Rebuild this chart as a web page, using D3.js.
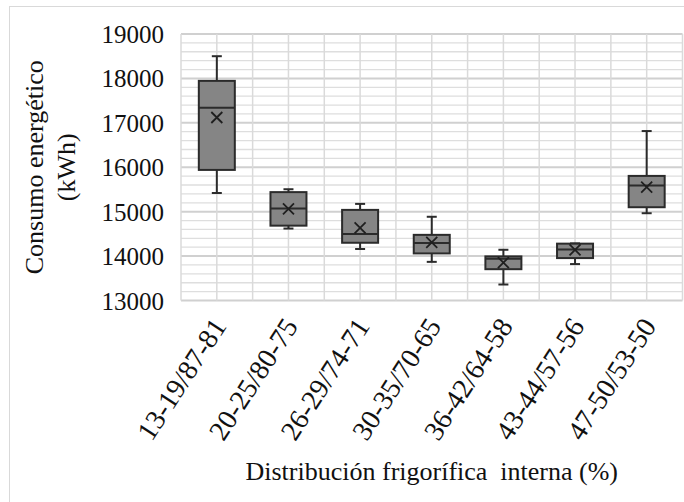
<!DOCTYPE html>
<html>
<head>
<meta charset="utf-8">
<script src="https://cdn.jsdelivr.net/npm/d3@7"></script>
<style>
  html, body { margin: 0; padding: 0; background: #fff; }
  svg text { font-family: "Liberation Serif", "Times New Roman", serif !important; fill: #111; }
</style>
</head>
<body>
<svg id="chart" width="684" height="502"></svg>
<script>
// Energy consumption by internal refrigeration distribution (box-and-whisker summary)
const categories = ["13-19/87-81", "20-25/80-75", "26-29/74-71", "30-35/70-65", "36-42/64-58", "43-44/57-56", "47-50/53-50"];
const mins    = [15420, 14620, 14160, 13870, 13360, 13820, 14965];
const q1s     = [15940, 14685, 14300, 14060, 13705, 13955, 15100];
const medians = [17340, 15070, 14500, 14295, 13940, 14150, 15590];
const q3s     = [17945, 15440, 15040, 14478, 13993, 14280, 15805];
const maxs    = [18500, 15505, 15175, 14885, 14142, 14285, 16815];
const means   = [17120, 15062, 14635, 14310, 13852, 14140, 15550];
const yTicks  = [13000, 14000, 15000, 16000, 17000, 18000, 19000];

const yTitle = ["Consumo energético", "(kWh)"];
const xTitle = "Distribución frigorífica  interna (%)";

const svg = d3.select("#chart");
const W = 684, H = 502;
const plot = { left: 181, right: 682.5, top: 34, bottom: 300.5 };

// chart area outline
svg.append("rect")
  .attr("x", 9.5).attr("y", 6.5).attr("width", W).attr("height", H)
  .attr("fill", "none").attr("stroke", "#d9d9d9").attr("stroke-width", 1);

const x = d3.scaleBand().domain(categories).range([plot.left, plot.right]).paddingInner(0).paddingOuter(0);
const y = d3.scaleLinear().domain([13000, 19000]).range([plot.bottom, plot.top]);

const grid = svg.append("g");
// horizontal gridlines: major every 1000, minor every 200
d3.range(13000, 19001, 200).forEach(v => {
  const major = v % 1000 === 0;
  grid.append("line")
    .attr("x1", plot.left).attr("x2", plot.right)
    .attr("y1", y(v)).attr("y2", y(v))
    .attr("stroke", major ? "#d0d0d0" : "#dedede")
    .attr("stroke-width", major ? 2 : 1.3);
});
// vertical gridlines at category boundaries and centres
const vx = [];
categories.forEach(c => { vx.push(x(c)); vx.push(x(c) + x.bandwidth() / 2); });
vx.push(plot.right);
vx.forEach(px => {
  grid.append("line")
    .attr("x1", px).attr("x2", px)
    .attr("y1", plot.top).attr("y2", plot.bottom)
    .attr("stroke", "#dadada").attr("stroke-width", 1.5);
});

// y axis labels
const yAxis = d3.axisLeft(y).tickValues(yTicks).tickSize(0).tickPadding(0).tickFormat(d3.format("d"));
const ya = svg.append("g").attr("transform", `translate(${164},0)`)
  .call(yAxis).attr("font-family", null).attr("font-size", null);
ya.select(".domain").remove();
ya.selectAll("text")
  .attr("font-size", 25).attr("dy", "0.34em");

// x axis labels (rotated)
const xAxis = d3.axisBottom(x).tickSize(0).tickPadding(0);
const xa = svg.append("g").attr("transform", `translate(0,${plot.bottom})`)
  .call(xAxis).attr("font-family", null).attr("font-size", null);
xa.select(".domain").remove();
xa.selectAll("text")
  .attr("font-size", 28)
  .attr("text-anchor", "end")
  .attr("dy", "0.7em")
  .attr("transform", "translate(-6,15) rotate(-57)");

// boxes
const boxW = 36, capW = 8, ink = "#2b2b2b";
const boxes = svg.append("g");
categories.forEach((c, i) => {
  const cx = x(c) + x.bandwidth() / 2;
  const g = boxes.append("g");
  // whiskers
  g.append("line").attr("x1", cx).attr("x2", cx).attr("y1", y(maxs[i])).attr("y2", y(q3s[i]))
    .attr("stroke", ink).attr("stroke-width", 2);
  g.append("line").attr("x1", cx).attr("x2", cx).attr("y1", y(q1s[i])).attr("y2", y(mins[i]))
    .attr("stroke", ink).attr("stroke-width", 2);
  [maxs[i], mins[i]].forEach(v => {
    g.append("line").attr("x1", cx - capW / 2 - 1).attr("x2", cx + capW / 2 + 1)
      .attr("y1", y(v)).attr("y2", y(v)).attr("stroke", ink).attr("stroke-width", 2);
  });
  // box
  g.append("rect")
    .attr("x", cx - boxW / 2).attr("width", boxW)
    .attr("y", y(q3s[i])).attr("height", y(q1s[i]) - y(q3s[i]))
    .attr("fill", "#858585").attr("stroke", ink).attr("stroke-width", 2);
  // median
  g.append("line").attr("x1", cx - boxW / 2).attr("x2", cx + boxW / 2)
    .attr("y1", y(medians[i])).attr("y2", y(medians[i]))
    .attr("stroke", ink).attr("stroke-width", 2);
  // mean marker
  const my = y(means[i]), s = 5.5;
  g.append("path")
    .attr("d", `M${cx - s},${my - s}L${cx + s},${my + s}M${cx - s},${my + s}L${cx + s},${my - s}`)
    .attr("stroke", "#1f1f1f").attr("stroke-width", 1.8).attr("fill", "none");
});

// axis titles
svg.append("text")
  .attr("transform", `translate(43,${(plot.top + plot.bottom) / 2}) rotate(-90)`)
  .attr("text-anchor", "middle").attr("font-size", 26)
  .text(yTitle[0]);
svg.append("text")
  .attr("transform", `translate(75,${(plot.top + plot.bottom) / 2}) rotate(-90)`)
  .attr("text-anchor", "middle").attr("font-size", 26)
  .text(yTitle[1]);
svg.append("text")
  .attr("x", (plot.left + plot.right) / 2).attr("y", 480)
  .attr("text-anchor", "middle").attr("font-size", 26)
  .style("white-space", "pre")
  .text(xTitle);
</script>
</body>
</html>
